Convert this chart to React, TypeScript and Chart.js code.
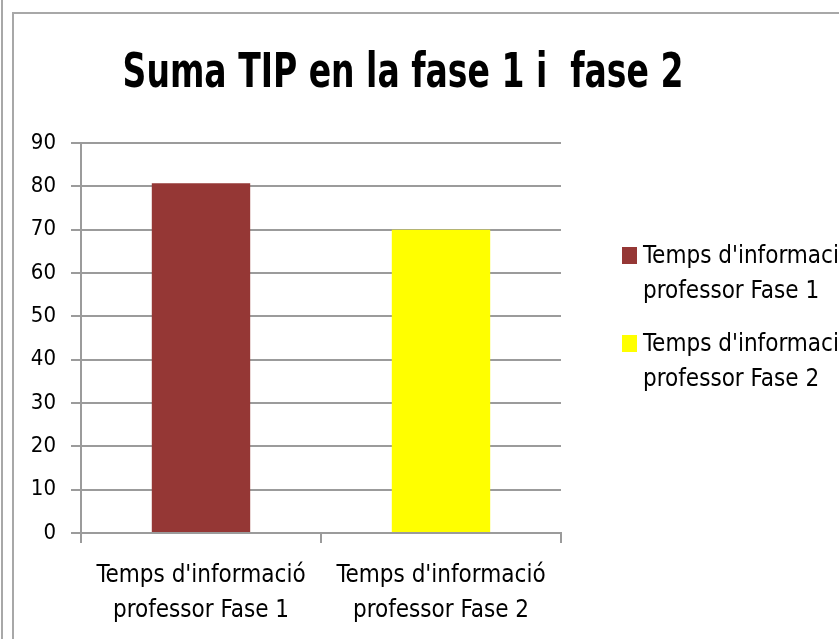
import React, { useEffect, useRef } from "react";
import { Chart, registerables } from "chart.js";

Chart.register(...registerables);

// ---- data ----
const categories: string[][] = [
  ["Temps d'informació", "professor Fase 1"],
  ["Temps d'informació", "professor Fase 2"],
];
const values: number[] = [80.7, 70];
const barColors: string[] = ["#953735", "#FFFF00"];
const yMin = 0;
const yMax = 90;
const yStep = 10;
const titleText = "Suma TIP en la fase 1 i  fase 2";

const FONT = '"DejaVu Sans Condensed", "Liberation Sans Narrow", sans-serif';
const GRID = "#9b9b9b";

const decorPlugin = {
  id: "decor",
  beforeDraw(chart: any) {
    const ctx = chart.ctx as CanvasRenderingContext2D;
    const w = chart.width;
    const h = chart.height;
    ctx.save();
    ctx.fillStyle = "#ffffff";
    ctx.fillRect(0, 0, w, h);
    ctx.strokeStyle = "#a8a8a8";
    ctx.lineWidth = 2;
    ctx.beginPath();
    ctx.moveTo(2, 0);
    ctx.lineTo(2, h);
    ctx.moveTo(13, h);
    ctx.lineTo(13, 13);
    ctx.lineTo(w, 13);
    ctx.stroke();
    ctx.restore();
  },
  afterDraw(chart: any) {
    const ctx = chart.ctx as CanvasRenderingContext2D;
    ctx.save();
    // title (condensed horizontally to match the narrow original face)
    ctx.fillStyle = "#000000";
    ctx.font = `bold 48px ${FONT}`;
    ctx.textAlign = "center";
    ctx.textBaseline = "alphabetic";
    ctx.translate(403, 87);
    ctx.scale(0.765, 1);
    ctx.fillText(titleText, 0, 0);
    ctx.setTransform(1, 0, 0, 1, 0, 0);
    // legend
    ctx.font = `24px ${FONT}`;
    ctx.textAlign = "left";
    const lx = chart.chartArea.right + 61;
    categories.forEach((lines, i) => {
      const top = 247 + i * 88;
      ctx.fillStyle = barColors[i];
      ctx.fillRect(lx, top, 15, 17);
      ctx.fillStyle = "#000000";
      lines.forEach((ln, j) => {
        ctx.fillText(ln, lx + 21, top + 16 + j * 35);
      });
    });
    ctx.restore();
  },
};

export default function App() {
  const ref = useRef<HTMLCanvasElement | null>(null);
  useEffect(() => {
    if (!ref.current) return;
    const chart = new Chart(ref.current, {
      type: "bar",
      data: {
        labels: categories,
        datasets: [
          {
            label: titleText,
            data: values,
            backgroundColor: barColors,
            borderWidth: 0,
            barPercentage: 0.41,
            categoryPercentage: 1,
          },
        ],
      },
      options: {
        animation: false,
        responsive: false,
        devicePixelRatio: 1,
        layout: { padding: { top: 143, right: 278, bottom: 0, left: 0 } },
        plugins: {
          legend: { display: false },
          title: { display: false },
          tooltip: { enabled: false },
        },
        scales: {
          x: {
            offset: true,
            grid: {
              offset: true,
              drawOnChartArea: false,
              drawTicks: true,
              tickLength: 10,
              color: GRID,
              lineWidth: 2,
            },
            border: { display: true, color: GRID, width: 2 },
            ticks: {
              color: "#000000",
              padding: 15,
              maxRotation: 0,
              autoSkip: false,
              font: { family: FONT, size: 24, lineHeight: 35 / 24 },
            },
            afterFit(scale: any) {
              scale.height = 106;
            },
          },
          y: {
            min: yMin,
            max: yMax,
            ticks: {
              stepSize: yStep,
              color: "#000000",
              padding: 15,
              font: { family: FONT, size: 22 },
            },
            grid: {
              color: GRID,
              lineWidth: 2,
              tickLength: 10,
              drawTicks: true,
            },
            border: { display: true, color: GRID, width: 2 },
            afterFit(scale: any) {
              scale.width = 81;
            },
          },
        },
      },
      plugins: [decorPlugin],
    });
    return () => chart.destroy();
  }, []);
  return (
    <div style={{ position: "absolute", left: 0, top: 0, width: 839, height: 639 }}>
      <canvas ref={ref} width={839} height={639} style={{ display: "block" }} />
    </div>
  );
}
